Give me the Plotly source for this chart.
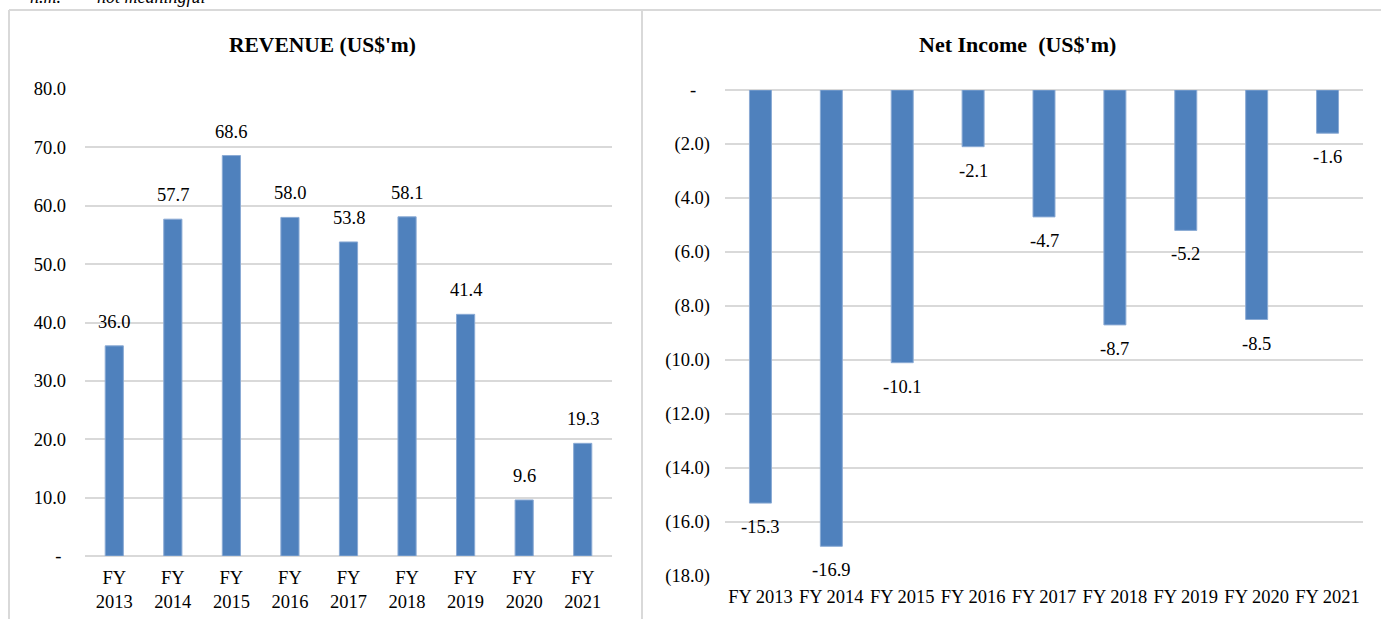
import plotly.graph_objects as go

W, H = 1381, 619

years = ["2013", "2014", "2015", "2016", "2017", "2018", "2019", "2020", "2021"]
revenue = [36.0, 57.7, 68.6, 58.0, 53.8, 58.1, 41.4, 9.6, 19.3]
net_income = [-15.3, -16.9, -10.1, -2.1, -4.7, -8.7, -5.2, -8.5, -1.6]

rev_labels = ["FY<br>" + y for y in years]
ni_labels = ["FY " + y for y in years]

rev_tickvals = [0, 10, 20, 30, 40, 50, 60, 70, 80]
rev_ticktext = ["-\u00a0", "10.0", "20.0", "30.0", "40.0", "50.0", "60.0", "70.0", "80.0"]
ni_tickvals = [0, -2, -4, -6, -8, -10, -12, -14, -16, -18]
ni_ticktext = ["-\u00a0\u00a0\u00a0", "(2.0)", "(4.0)", "(6.0)", "(8.0)", "(10.0)", "(12.0)", "(14.0)", "(16.0)", "(18.0)"]

BAR = "#4f81bd"
GRID = "#d9d9d9"
FONT = "Liberation Serif"
TS = 18.5

def px_x(p):
    return p / W

def px_y(p):
    return 1 - p / H

fig = go.Figure()
fig.add_trace(go.Bar(
    x=rev_labels, y=revenue, xaxis="x", yaxis="y",
    marker=dict(color=BAR, line=dict(color="#8aaad4", width=1)),
    width=0.31, showlegend=False, hoverinfo="skip"))
fig.add_trace(go.Bar(
    x=ni_labels, y=net_income, xaxis="x2", yaxis="y2",
    marker=dict(color=BAR, line=dict(color="#8aaad4", width=1)),
    width=0.31, showlegend=False, hoverinfo="skip"))

axis_common = dict(showline=False, ticks="", automargin=False,
                   tickfont=dict(family=FONT, size=TS, color="#000"))

annotations = [
    dict(text="<b>REVENUE (US$'m)</b>", xref="paper", yref="paper", x=px_x(322), y=px_y(45),
         showarrow=False, font=dict(family=FONT, size=21.5, color="#000"),
         xanchor="center", yanchor="middle"),
    dict(text="<b>Net Income  (US$'m)</b>", xref="paper", yref="paper", x=px_x(1017), y=px_y(45),
         showarrow=False, font=dict(family=FONT, size=22, color="#000"),
         xanchor="center", yanchor="middle"),
    dict(text="<i>n.m.   –   not meaningful</i>", xref="paper", yref="paper", x=px_x(28), y=px_y(-3),
         showarrow=False, font=dict(family=FONT, size=18, color="#000"),
         xanchor="left", yanchor="middle"),
]
for cat, v in zip(rev_labels, revenue):
    annotations.append(dict(text=f"{v:.1f}", xref="x", yref="y", x=cat, y=v, yshift=24,
                            showarrow=False, xanchor="center", yanchor="middle",
                            font=dict(family=FONT, size=TS, color="#000")))
for cat, v in zip(ni_labels, net_income):
    annotations.append(dict(text=f"{v:.1f}", xref="x2", yref="y2", x=cat, y=v, yshift=-24,
                            showarrow=False, xanchor="center", yanchor="middle",
                            font=dict(family=FONT, size=TS, color="#000")))

fig.update_layout(
    width=W, height=H, margin=dict(l=0, r=0, t=0, b=0, autoexpand=False),
    paper_bgcolor="white", plot_bgcolor="white",
    font=dict(family=FONT, color="#000"),
    xaxis=dict(domain=[px_x(85), px_x(612)], anchor="y", showgrid=False, zeroline=False,
               ticklabelstandoff=8, **axis_common),
    yaxis=dict(domain=[px_y(556), px_y(89)], anchor="x", range=[0, 80],
               tickvals=rev_tickvals, ticktext=rev_ticktext,
               showgrid=True, gridcolor=GRID, gridwidth=1.5, zeroline=True,
               zerolinecolor=GRID, zerolinewidth=1.5, ticklabelstandoff=18, **axis_common),
    xaxis2=dict(domain=[px_x(725), px_x(1363)], anchor="y2", showgrid=False, zeroline=False,
                ticklabelstandoff=7, **axis_common),
    yaxis2=dict(domain=[px_y(576), px_y(90)], anchor="x2", range=[-18, 0],
                tickvals=ni_tickvals, ticktext=ni_ticktext,
                showgrid=True, gridcolor=GRID, gridwidth=1.5, zeroline=True,
                zerolinecolor=GRID, zerolinewidth=1.5, ticklabelstandoff=14, **axis_common),
    shapes=[
        dict(type="line", xref="paper", yref="paper", x0=px_x(9), x1=1, y0=px_y(10), y1=px_y(10),
             line=dict(color=GRID, width=2)),
        dict(type="line", xref="paper", yref="paper", x0=px_x(9), x1=px_x(9), y0=px_y(10), y1=0,
             line=dict(color=GRID, width=2)),
        dict(type="line", xref="paper", yref="paper", x0=px_x(642), x1=px_x(642), y0=px_y(10), y1=0,
             line=dict(color=GRID, width=2)),
    ],
    annotations=annotations,
)

fig.write_html("out.html")
